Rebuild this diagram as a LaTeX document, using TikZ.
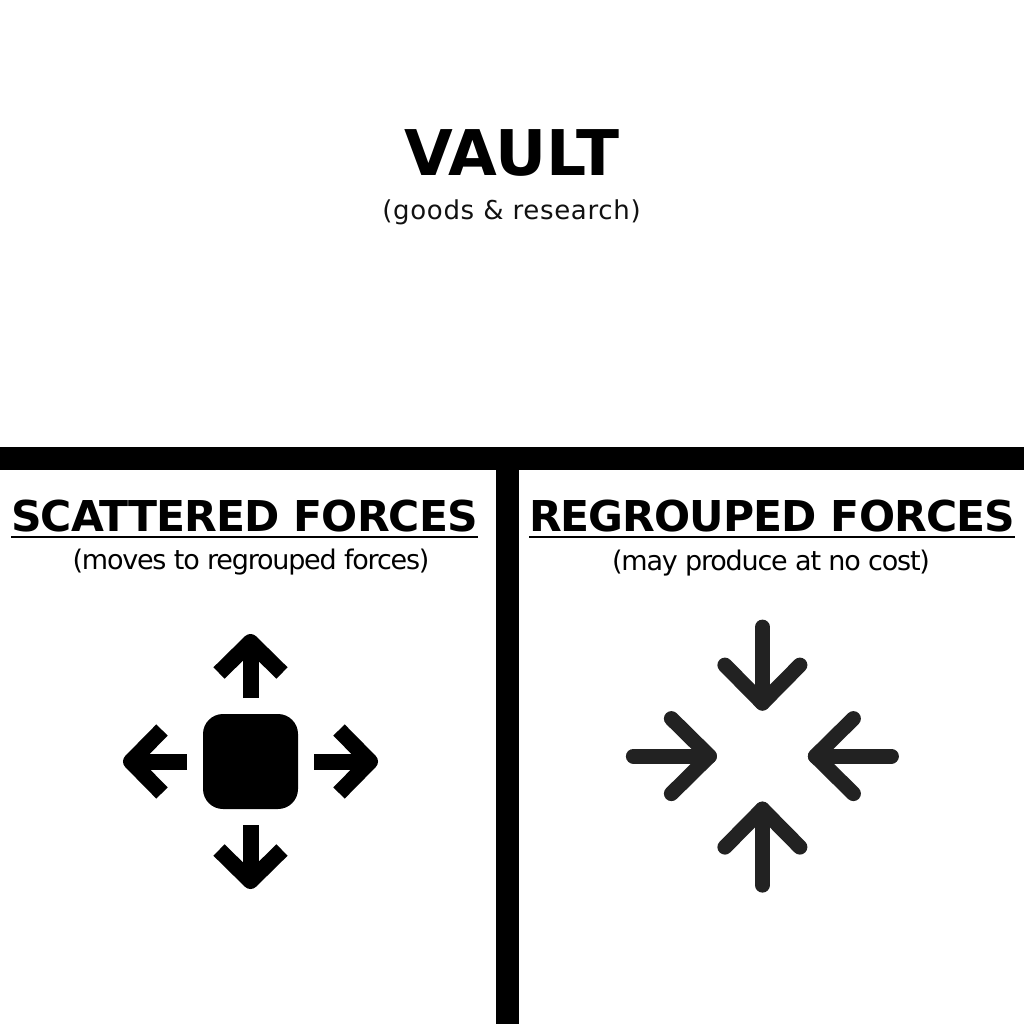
\documentclass[tikz,border=0pt]{standalone}
\usepackage{fontspec}
\setmainfont{DejaVu Sans}
\newfontfamily\tightfont[LetterSpace=-4.5]{DejaVu Sans}
\newfontfamily\widefont[LetterSpace=2.7]{DejaVu Sans}
\newfontfamily\headfont[LetterSpace=-2.2]{DejaVu Sans Bold}
\tikzset{
  x=1pt,y=-1pt,
  bar/.style={fill=black,draw=none},
  label/.style={inner sep=0pt,anchor=base,text=black},
  shaftA/.style={line width=16pt,line cap=butt,black},
  headA/.style={line width=16pt,line cap=butt,line join=round,black},
  lineB/.style={line width=15pt,line cap=round,line join=round,draw=arrowgray},
  pics/outarrow/.style={code={
    \coordinate (-tail) at (0,-63.5);
    \coordinate (-apex) at (0,-119.5);
    \coordinate (-wl) at (-31.5,-88.5);
    \coordinate (-wr) at (31.5,-88.5);
    \draw[shaftA] (-tail) -- (-apex);
    \draw[headA] (-wl) -- (-apex) -- (-wr);
  }},
  pics/inarrow/.style={code={
    \coordinate (-tail) at (0,-129);
    \coordinate (-apex) at (0,-53);
    \coordinate (-wl) at (-37.5,-91);
    \coordinate (-wr) at (37.5,-91);
    \draw[lineB] (-tail) -- (-apex);
    \draw[lineB] (-wl) -- (-apex) -- (-wr);
  }}
}
\definecolor{arrowgray}{HTML}{222222}
\definecolor{subgray}{HTML}{111111}
\begin{document}
\begin{tikzpicture}
\useasboundingbox (0,0) rectangle (1024,1024);
\fill[white] (0,0) rectangle (1024,1024);
\node[bar,minimum width=1024pt,minimum height=23pt,inner sep=0pt] (hbar) at (512,458.5) {};
\node[bar,minimum width=23pt,minimum height=554pt,inner sep=0pt] (vbar) at (507.5,747) {};
\node[label,font=\bfseries\fontsize{63}{63}\selectfont] (title) at (512,175.5) {VAULT};
\node[label,font=\widefont\fontsize{26}{26}\selectfont,text=subgray] (subtitle) at (511.5,220) {(goods \& research)};
\node[label,font=\headfont\fontsize{42.5}{42.5}\selectfont] (lefthead) at (244.5,531) {SCATTERED FORCES};
\node[label,font=\headfont\fontsize{42.5}{42.5}\selectfont] (righthead) at (772,531) {REGROUPED FORCES};
\draw[line width=2pt] (11,537) -- (478,537);
\draw[line width=2pt] (529,537) -- (1015,537);
\node[label,font=\tightfont\fontsize{27}{27}\selectfont] (leftsub) at (251,569) {(moves to regrouped forces)};
\node[label,font=\tightfont\fontsize{27}{27}\selectfont] (rightsub) at (771,570) {(may produce at no cost)};
\node[fill=black,draw=none,rounded corners=20pt,minimum size=95pt,inner sep=0pt] (core) at (250.5,761.5) {};
\begin{scope}[shift={(250.5,761.5)}]
\foreach \a/\n in {0/u,90/r,180/d,270/l} \pic[rotate=\a] (o\n) {outarrow};
\end{scope}
\begin{scope}[shift={(762.4,756.1)}]
\foreach \a/\n in {0/u,90/r,180/d,270/l} \pic[rotate=\a] (i\n) {inarrow};
\end{scope}
\end{tikzpicture}
\end{document}
